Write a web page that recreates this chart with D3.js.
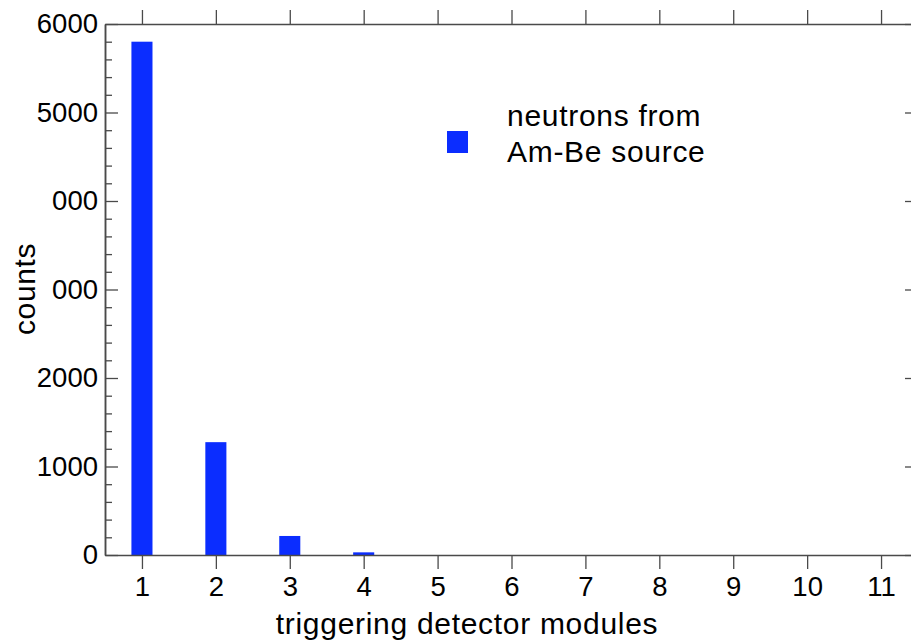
<!DOCTYPE html>
<html>
<head>
<meta charset="utf-8">
<script src="https://cdn.jsdelivr.net/npm/d3@7"></script>
<style>
  body { margin: 0; background: #fff; }
  svg { display: block; }
  text { font-family: "Liberation Sans", Arial, Helvetica, sans-serif; fill: #000; }
</style>
</head>
<body>
<script>
var width = 911,
    height = 644

// data
var modules = [1, 2, 3, 4, 5, 6, 7, 8, 9, 10, 11]
var counts = [5800, 1275, 215, 30, 0, 0, 0, 0, 0, 0, 0]
var yTicks = [0, 1000, 2000, 3000, 4000, 5000, 6000]
var yTickLabels = ['0', '1000', '2000', '000', '000', '5000', '6000']
var legendLines = ['neutrons from', 'Am-Be source']

var barColor = '#0b2dff',
    axisColor = '#4a4a4a'

var x = d3.scaleLinear()
    .domain([0.5, 11.5])
    .range([105, 918])

var y = d3.scaleLinear()
    .domain([0, 6000])
    .range([555, 24])

var barW = x(0.285) - x(0)

var svg = d3.select('body').append('svg')
    .attr('width', width)
    .attr('height', height)

// bars
svg.selectAll('rect.bar')
    .data(modules)
  .enter().append('rect')
    .attr('class', 'bar')
    .attr('x', function(d) { return x(d) - barW / 2 })
    .attr('width', barW)
    .attr('y', function(d, i) { return y(counts[i]) })
    .attr('height', function(d, i) { return y(0) - y(counts[i]) })
    .attr('fill', barColor)

// minor y ticks every 200
var minor = d3.range(0, 6001, 200).filter(function(d) { return d % 1000 != 0 })

function styleAxis(g) {
  g.select('.domain').attr('stroke', axisColor).attr('stroke-width', 1.5)
  g.selectAll('.tick line').attr('stroke', axisColor).attr('stroke-width', 1.3)
  g.selectAll('.tick text').attr('fill', '#000')
}

// left axis: inward ticks
svg.append('g')
    .attr('transform', 'translate(' + x.range()[0] + ',0)')
    .call(d3.axisLeft(y).tickValues(minor).tickSizeInner(-7).tickSizeOuter(0).tickFormat(''))
    .call(styleAxis)

svg.append('g')
    .attr('transform', 'translate(' + x.range()[0] + ',0)')
    .call(d3.axisLeft(y).tickValues(yTicks).tickSizeInner(-13).tickSizeOuter(0).tickPadding(7)
      .tickFormat(function(d, i) { return yTickLabels[i] }))
    .call(styleAxis)
    .selectAll('.tick text')
    .style('font-size', '27.5px')

// right axis: inward ticks, no labels
svg.append('g')
    .attr('transform', 'translate(' + x.range()[1] + ',0)')
    .call(d3.axisRight(y).tickValues(minor).tickSizeInner(-7).tickSizeOuter(0).tickFormat(''))
    .call(styleAxis)

svg.append('g')
    .attr('transform', 'translate(' + x.range()[1] + ',0)')
    .call(d3.axisRight(y).tickValues(yTicks).tickSizeInner(-13).tickSizeOuter(0).tickFormat(''))
    .call(styleAxis)

// bottom axis: outward ticks
svg.append('g')
    .attr('transform', 'translate(0,' + y(0) + ')')
    .call(d3.axisBottom(x).tickValues(modules).tickSizeInner(14).tickSizeOuter(0).tickPadding(7)
      .tickFormat(d3.format('d')))
    .call(styleAxis)
    .selectAll('.tick text')
    .style('font-size', '27.5px')

// top axis: outward ticks, no labels
svg.append('g')
    .attr('transform', 'translate(0,' + y(6000) + ')')
    .call(d3.axisTop(x).tickValues(modules).tickSizeInner(14).tickSizeOuter(0).tickFormat(''))
    .call(styleAxis)

// axis titles
svg.append('text')
    .attr('x', 467)
    .attr('y', 634)
    .attr('text-anchor', 'middle')
    .style('font-size', '30px')
    .style('letter-spacing', '0.7px')
    .text('triggering detector modules')

svg.append('text')
    .attr('transform', 'translate(35,289) rotate(-90)')
    .attr('text-anchor', 'middle')
    .style('font-size', '30px')
    .style('letter-spacing', '0.6px')
    .text('counts')

// legend
var legend = svg.append('g').attr('transform', 'translate(447,131)')

legend.append('rect')
    .attr('width', 21)
    .attr('height', 22)
    .attr('fill', barColor)

legend.selectAll('text')
    .data(legendLines)
  .enter().append('text')
    .attr('x', 60)
    .attr('y', function(d, i) { return -5 + i * 36 })
    .style('font-size', '30px')
    .style('letter-spacing', '0.7px')
    .text(function(d) { return d })
</script>
</body>
</html>
